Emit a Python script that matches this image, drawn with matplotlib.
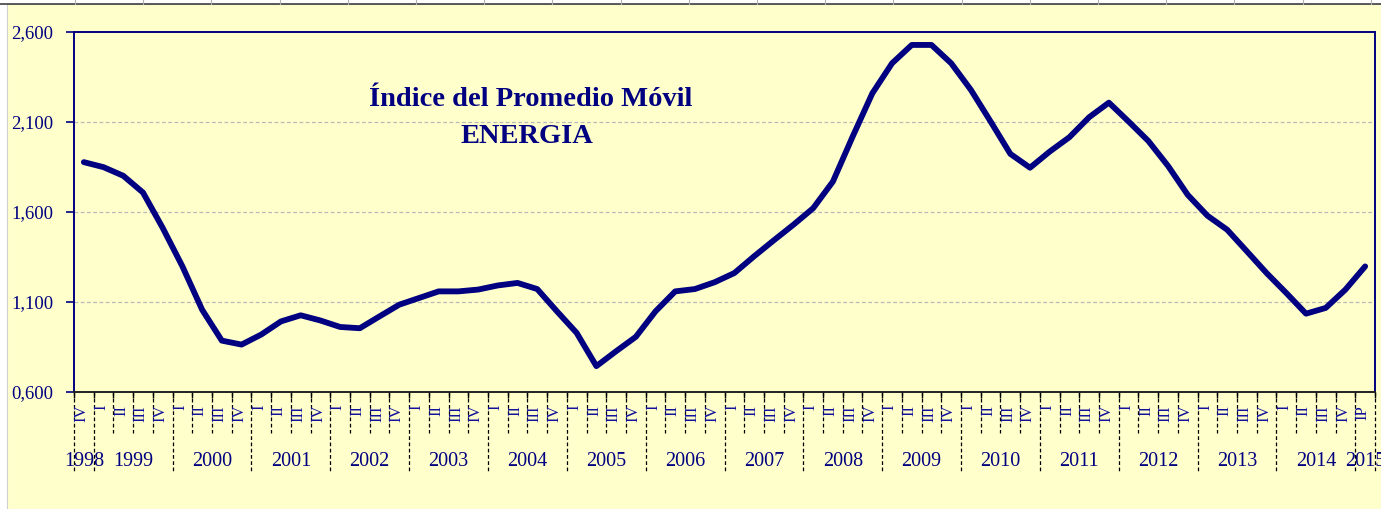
import matplotlib
matplotlib.use("Agg")
import matplotlib.pyplot as plt
from matplotlib.lines import Line2D
from matplotlib.patches import Rectangle
import matplotlib.transforms as mtransforms

# ---- data ----
years = ["1998", "1999", "2000", "2001", "2002", "2003", "2004", "2005", "2006",
         "2007", "2008", "2009", "2010", "2011", "2012", "2013", "2014", "2015"]
quarters_per_year = [1, 4, 4, 4, 4, 4, 4, 4, 4, 4, 4, 4, 4, 4, 4, 4, 4, 1]
quarter_labels = (["IV"] + ["I", "II", "III", "IV"] * 16 + ["IP"])
values = [1.876, 1.848, 1.800, 1.707, 1.510, 1.296, 1.055, 0.883, 0.861, 0.917,
          0.990, 1.024, 0.995, 0.959, 0.952, 1.018, 1.083, 1.120, 1.157, 1.157,
          1.167, 1.190, 1.204, 1.170, 1.046, 0.926, 0.741, 0.824, 0.904, 1.046,
          1.157, 1.170, 1.208, 1.259, 1.352, 1.441, 1.528, 1.620, 1.768, 2.018,
          2.259, 2.426, 2.528, 2.528, 2.426, 2.278, 2.102, 1.922, 1.845, 1.935,
          2.015, 2.126, 2.207, 2.102, 1.994, 1.855, 1.694, 1.578, 1.500, 1.380,
          1.259, 1.148, 1.033, 1.065, 1.167, 1.296]
y_ticks = [0.6, 1.1, 1.6, 2.1, 2.6]
title_lines = ["Índice del Promedio Móvil", "ENERGIA"]

NAVY = "#000080"
LABEL_BLUE = "#10109a"
BG = "#FFFFCC"
W, H = 1381, 509

fig = plt.figure(figsize=(W / 100, H / 100), dpi=100, facecolor="white")

# spreadsheet-like background
bgrect = Rectangle((7 / W, 0), 1 - 7 / W, 1 - 4 / H, transform=fig.transFigure,
                   facecolor=BG, edgecolor="#d0d0d0", lw=0.8, zorder=-10)
fig.patches.append(bgrect)
fig.lines.append(Line2D([0, 1], [1 - 3.5 / H, 1 - 3.5 / H], transform=fig.transFigure,
                        color="#404040", lw=1.2, zorder=-9))
cx = 75.0
while cx < W:
    fig.lines.append(Line2D([cx / W, cx / W], [1 - 3.5 / H, 1], transform=fig.transFigure,
                            color="#b0b0b0", lw=0.8, zorder=-9))
    cx += 68.2

left, right, top, bottom = 74 / W, 1375 / W, 32 / H, 391.5 / H
ax = fig.add_axes([left, 1 - bottom, right - left, bottom - top])
ax.set_zorder(5)
ax.set_facecolor(BG)

x = list(range(len(values)))
ax.plot(x, values, color=NAVY, lw=4.2, solid_joinstyle="round", solid_capstyle="round", zorder=3)

ax.set_xlim(-0.5, len(values) - 0.5)
ax.set_ylim(y_ticks[0], y_ticks[-1])
ax.set_yticks(y_ticks)
ax.set_yticklabels([f"{v:,.3f}".replace(".", ",") for v in y_ticks],
                   fontfamily="Liberation Serif", fontsize=13.5, color=NAVY)
ax.tick_params(axis="y", direction="out", length=6, width=1.2, color=NAVY, pad=9)
for gv in y_ticks[1:-1]:
    ax.axhline(gv, color="#b8b8b8", lw=0.9, ls=(0, (3, 2)), zorder=1)

# x axis: ticks at category boundaries
bounds = [i - 0.5 for i in range(len(values) + 1)]
ax.set_xticks(bounds)
ax.set_xticklabels([])
ax.tick_params(axis="x", direction="out", length=4, width=1, color="black")

for s in ["left", "top", "right"]:
    ax.spines[s].set_color(NAVY)
    ax.spines[s].set_linewidth(1.4)
ax.spines["bottom"].set_color("#202020")
ax.spines["bottom"].set_linewidth(1.4)

trans = mtransforms.blended_transform_factory(ax.transData, fig.transFigure)
q_bottom = 1 - 433 / H
y_bottom = 1 - 473 / H
axis_y = 1 - 392 / H

# year boundaries
year_starts = [0]
for n in quarters_per_year:
    year_starts.append(year_starts[-1] + n)
year_bounds = set(s - 0.5 for s in year_starts)

for b in bounds:
    yb = y_bottom if b in year_bounds else q_bottom
    ax.add_line(Line2D([b, b], [axis_y, yb], transform=trans, color="black",
                       lw=0.9, ls=(0, (3, 2)), clip_on=False))

for i, lab in enumerate(quarter_labels):
    ax.text(i - 0.12, 1 - 405 / H, lab, transform=trans, rotation=90,
            ha="center", va="top", fontfamily="Liberation Serif", fontsize=12,
            color=LABEL_BLUE, clip_on=False)

for yr, s, n in zip(years, year_starts[:-1], quarters_per_year):
    ax.text(s + (n - 1) / 2, 1 - 461 / H, yr, transform=trans, ha="center", va="center",
            fontfamily="Liberation Serif", fontsize=14.5, color=NAVY, clip_on=False)

# title inside plot
ax.text(531 / W, 1 - 100 / H, title_lines[0], transform=fig.transFigure, ha="center",
        va="center", fontfamily="Liberation Serif", fontweight="bold", fontsize=20.5,
        color=NAVY, zorder=4)
ax.text(527 / W, 1 - 136 / H, title_lines[1], transform=fig.transFigure, ha="center",
        va="center", fontfamily="Liberation Serif", fontweight="bold", fontsize=20.5,
        color=NAVY, zorder=4)

fig.savefig("out.png", dpi=100, facecolor=fig.get_facecolor())
